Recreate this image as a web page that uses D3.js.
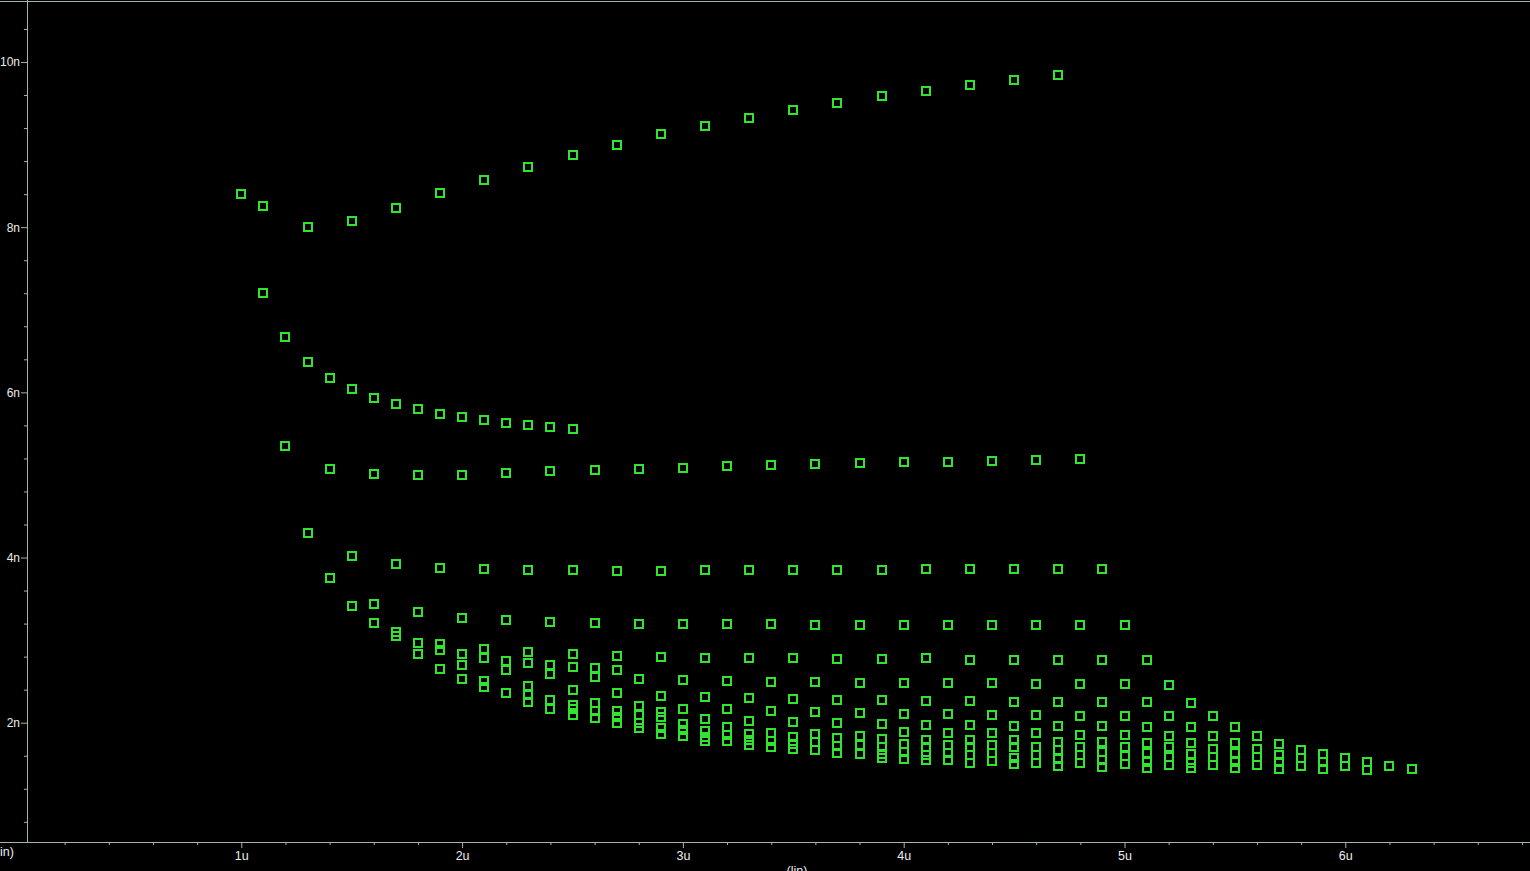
<!DOCTYPE html>
<html>
<head>
<meta charset="utf-8">
<script src="https://cdn.jsdelivr.net/npm/d3@7"></script>
<style>
  body { margin: 0; background: #000; overflow: hidden; }
</style>
</head>
<body>
<svg id="chart" width="1530" height="871"></svg>
<script>

// sweep values on the x axis (u), one column of markers for each
var xValues = [1.0, 1.1, 1.2, 1.3, 1.4, 1.5, 1.6, 1.7, 1.8, 1.9,
               2.0, 2.1, 2.2, 2.3, 2.4, 2.5, 2.6, 2.7, 2.8, 2.9,
               3.0, 3.1, 3.2, 3.3, 3.4, 3.5, 3.6, 3.7, 3.8, 3.9,
               4.0, 4.1, 4.2, 4.3, 4.4, 4.5, 4.6, 4.7, 4.8, 4.9,
               5.0, 5.1, 5.2, 5.3, 5.4, 5.5, 5.6, 5.7, 5.8, 5.9,
               6.0, 6.1, 6.2, 6.3];

// y values (n) of all markers in each column
var yColumns = [
    [8.40],
    [8.26, 7.20],
    [6.67, 5.35],
    [8.00, 6.37, 4.30],
    [6.17, 5.07, 3.75],
    [8.08, 6.04, 4.02, 3.41],
    [5.93, 5.01, 3.44, 3.21],
    [8.23, 5.86, 3.92, 3.10, 3.05],
    [5.80, 5.00, 3.34, 2.97, 2.83],
    [8.41, 5.74, 3.87, 2.95, 2.88, 2.65],
    [5.70, 5.00, 3.27, 2.83, 2.70, 2.53],
    [8.57, 5.67, 3.86, 2.89, 2.78, 2.51, 2.43],
    [5.63, 5.02, 3.24, 2.75, 2.64, 2.36],
    [8.73, 5.61, 3.85, 2.86, 2.72, 2.45, 2.34, 2.25],
    [5.58, 5.05, 3.22, 2.70, 2.59, 2.28, 2.17],
    [8.87, 5.56, 3.85, 2.83, 2.68, 2.39, 2.22, 2.16, 2.09],
    [5.06, 3.21, 2.66, 2.55, 2.24, 2.14, 2.06],
    [9.00, 3.84, 2.81, 2.64, 2.36, 2.14, 2.07, 2.00],
    [5.07, 3.20, 2.53, 2.20, 2.09, 2.00, 1.93],
    [9.13, 3.84, 2.80, 2.32, 2.13, 2.07, 1.93, 1.86],
    [5.08, 3.20, 2.52, 2.17, 1.99, 1.91, 1.84],
    [9.23, 3.85, 2.78, 2.31, 2.05, 1.90, 1.83, 1.78],
    [5.11, 3.20, 2.51, 2.16, 1.95, 1.85, 1.78],
    [9.32, 3.85, 2.78, 2.30, 2.02, 1.86, 1.79, 1.73],
    [5.12, 3.20, 2.49, 2.14, 1.88, 1.78, 1.70],
    [9.42, 3.85, 2.78, 2.29, 2.01, 1.83, 1.74, 1.68],
    [5.13, 3.18, 2.49, 2.13, 1.86, 1.77, 1.67],
    [9.50, 3.85, 2.77, 2.28, 2.00, 1.82, 1.72, 1.63],
    [5.15, 3.18, 2.48, 2.12, 1.84, 1.73, 1.62],
    [9.59, 3.85, 2.77, 2.28, 1.99, 1.80, 1.71, 1.62, 1.57],
    [5.16, 3.18, 2.48, 2.11, 1.89, 1.74, 1.65, 1.56],
    [9.65, 3.86, 2.78, 2.26, 1.97, 1.79, 1.70, 1.61, 1.55],
    [5.16, 3.18, 2.48, 2.11, 1.88, 1.73, 1.63, 1.55],
    [9.72, 3.86, 2.76, 2.26, 1.97, 1.79, 1.71, 1.61, 1.51],
    [5.17, 3.18, 2.48, 2.09, 1.87, 1.73, 1.63, 1.54],
    [9.78, 3.86, 2.76, 2.25, 1.96, 1.79, 1.71, 1.57, 1.50],
    [5.18, 3.18, 2.47, 2.09, 1.87, 1.71, 1.61, 1.51],
    [9.84, 3.86, 2.76, 2.25, 1.96, 1.77, 1.67, 1.56, 1.48],
    [5.19, 3.18, 2.47, 2.08, 1.85, 1.71, 1.61, 1.51],
    [3.86, 2.76, 2.25, 1.96, 1.77, 1.65, 1.55, 1.46],
    [3.18, 2.47, 2.08, 1.85, 1.71, 1.60, 1.50],
    [2.76, 2.25, 1.95, 1.76, 1.63, 1.53, 1.45],
    [2.46, 2.08, 1.84, 1.70, 1.59, 1.49],
    [2.24, 1.95, 1.76, 1.62, 1.51, 1.45],
    [2.08, 1.84, 1.68, 1.59, 1.49],
    [1.95, 1.76, 1.63, 1.53, 1.45],
    [1.84, 1.68, 1.59, 1.49],
    [1.74, 1.61, 1.53, 1.44],
    [1.67, 1.57, 1.48],
    [1.62, 1.53, 1.44],
    [1.57, 1.48],
    [1.53, 1.43],
    [1.48],
    [1.44]
];

// tick values and labels
var xMajorTicks = [1, 2, 3, 4, 5, 6];
var xTickLabels = ["1u", "2u", "3u", "4u", "5u", "6u"];
var yMajorTicks = [2, 4, 6, 8, 10];
var yTickLabels = ["2n", "4n", "6n", "8n", "10n"];
var axisTitle = "(lin)";

var width = 1530, height = 871;
var left = 27, bottom = 842;
var axisColor = "#a3b8a3";
var labelColor = "#ececec";
var markColor = "#30e430";
var labelFont = "Liberation Sans, Arial, sans-serif";

var svg = d3.select("#chart");

svg.append("rect")
    .attr("width", width)
    .attr("height", height)
    .attr("fill", "#000")
;

var x = d3.scaleLinear().domain([1, 6]).range([241.3, 1345.3]);
var y = d3.scaleLinear().domain([2, 10]).range([722.7, 62]);

// minor ticks, every 0.2u / 0.4n inside the frame
var xMinorTicks = d3.range(1, 35).map(function(i) { return i * 0.2; })
    .filter(function(d) { return Math.abs(d - Math.round(d)) > 1e-6 && x(d) > left; });
var yMinorTicks = d3.range(2, 27).map(function(i) { return i * 0.4; })
    .filter(function(d) { return Math.abs(d / 2 - Math.round(d / 2)) > 1e-6 && y(d) > 0 && y(d) < bottom; });

//minor x ticks
svg.append("g")
    .attr("transform", "translate(0," + bottom + ")")
    .call(d3.axisBottom(x).tickValues(xMinorTicks).tickSize(3).tickFormat(""))
    .call(function(g) { g.select(".domain").remove(); })
    .selectAll("line").attr("stroke", axisColor)
;

//major x ticks
var gx = svg.append("g")
    .attr("transform", "translate(0," + bottom + ")")
    .call(d3.axisBottom(x).tickValues(xMajorTicks).tickSize(6).tickPadding(3)
        .tickFormat(function(d, i) { return xTickLabels[i]; }))
    .call(function(g) { g.select(".domain").remove(); })
;
gx.selectAll("line").attr("stroke", axisColor);
gx.selectAll("text")
    .attr("fill", labelColor)
    .attr("font-family", labelFont)
    .attr("font-size", "12.5px")
;

//minor y ticks
svg.append("g")
    .attr("transform", "translate(" + left + ",0)")
    .call(d3.axisLeft(y).tickValues(yMinorTicks).tickSize(3).tickFormat(""))
    .call(function(g) { g.select(".domain").remove(); })
    .selectAll("line").attr("stroke", axisColor)
;

//major y ticks
var gy = svg.append("g")
    .attr("transform", "translate(" + left + ",0)")
    .call(d3.axisLeft(y).tickValues(yMajorTicks).tickSize(6).tickPadding(1)
        .tickFormat(function(d, i) { return yTickLabels[i]; }))
    .call(function(g) { g.select(".domain").remove(); })
;
gy.selectAll("line").attr("stroke", axisColor);
gy.selectAll("text")
    .attr("fill", labelColor)
    .attr("font-family", labelFont)
    .attr("font-size", "12px")
;

// frame lines
svg.append("line")
    .attr("x1", 0).attr("x2", width)
    .attr("y1", 1.5).attr("y2", 1.5)
    .attr("stroke", axisColor)
;
svg.append("line")
    .attr("x1", 0).attr("x2", width)
    .attr("y1", bottom + 0.5).attr("y2", bottom + 0.5)
    .attr("stroke", axisColor)
;
svg.append("line")
    .attr("x1", left + 0.5).attr("x2", left + 0.5)
    .attr("y1", 0).attr("y2", bottom)
    .attr("stroke", axisColor)
;

// axis titles (both partly cut by the window edge, as in the original)
svg.append("text")
    .attr("x", 14)
    .attr("y", 856)
    .attr("text-anchor", "end")
    .attr("font-family", labelFont)
    .attr("font-size", "12.5px")
    .attr("fill", labelColor)
    .text(axisTitle)
;
svg.append("text")
    .attr("x", 797)
    .attr("y", 875)
    .attr("text-anchor", "middle")
    .attr("font-family", labelFont)
    .attr("font-size", "12.5px")
    .attr("fill", labelColor)
    .text(axisTitle)
;

// flatten the columns into points
var points = [];
xValues.forEach(function(xv, i) {
    yColumns[i].forEach(function(yv) {
        points.push({ x: xv, y: yv });
    });
});

svg.append("g")
    .selectAll("rect")
    .data(points)
    .enter()
    .append("rect")
    .attr("x", function(d) { return Math.round(x(d.x)) - 4; })
    .attr("y", function(d) { return Math.round(y(d.y)) - 4; })
    .attr("width", 8)
    .attr("height", 8)
    .attr("fill", "none")
    .attr("stroke", markColor)
    .attr("stroke-width", 2)
    .attr("shape-rendering", "crispEdges")
;

</script>
</body>
</html>
